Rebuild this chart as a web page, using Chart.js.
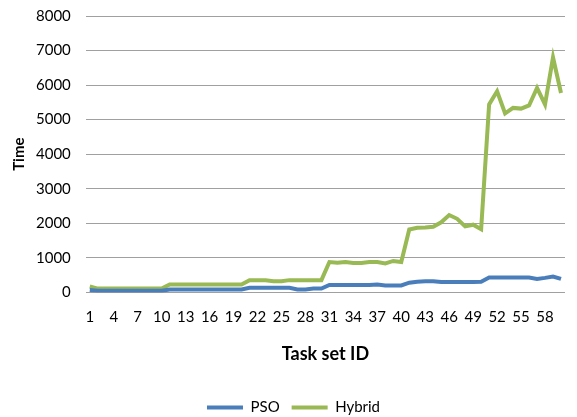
<!DOCTYPE html>
<html>
<head>
<meta charset="utf-8">
<script src="https://cdn.jsdelivr.net/npm/chart.js@4/dist/chart.umd.min.js"></script>
<style>
  html, body { margin: 0; padding: 0; background: #fff; overflow: hidden; }
  #wrap { width: 577px; height: 417px; position: relative; }
</style>
</head>
<body>
<div id="wrap"><canvas id="chartjs-0"></canvas></div>
<script>
// task set ids 1..60
var taskIds = [];
for (var i = 1; i <= 60; i++) { taskIds.push(String(i)); }

var psoTime = [
  70, 50, 50, 50, 50, 50, 50, 50, 50, 50,
  85, 85, 85, 85, 85, 85, 85, 85, 85, 85,
  135, 135, 135, 135, 135, 135, 85, 85, 110, 110,
  215, 215, 215, 215, 215, 215, 230, 200, 200, 200,
  280, 310, 325, 325, 300, 300, 300, 300, 300, 310,
  430, 430, 430, 430, 430, 430, 390, 420, 460, 390
];

var hybridTime = [
  170, 110, 110, 110, 110, 110, 110, 110, 110, 110,
  230, 230, 230, 230, 230, 230, 230, 230, 230, 230,
  355, 355, 350, 320, 320, 355, 355, 355, 355, 355,
  880, 860, 880, 850, 850, 880, 880, 840, 910, 880,
  1820, 1870, 1880, 1900, 2030, 2240, 2130, 1910, 1960, 1830,
  5440, 5820, 5180, 5340, 5320, 5410, 5920, 5440, 6800, 5770
];

var yTicks = [0, 1000, 2000, 3000, 4000, 5000, 6000, 7000, 8000];

var ctx0 = document.getElementById("chartjs-0");
var myChart = new Chart(ctx0, {
  type: "line",
  data: {
    labels: taskIds,
    datasets: [
      { label: "PSO", data: psoTime, borderColor: "#4a7ebb", backgroundColor: "#4a7ebb",
        borderWidth: 4, pointRadius: 0, tension: 0, fill: false },
      { label: "Hybrid", data: hybridTime, borderColor: "#98b954", backgroundColor: "#98b954",
        borderWidth: 4, pointRadius: 0, tension: 0, fill: false }
    ]
  },
  options: {
    responsive: true,
    maintainAspectRatio: false,
    animation: false,
    layout: { padding: { left: 10, right: 0, top: 4, bottom: -8 } },
    plugins: {
      legend: {
        position: "bottom",
        labels: {
          boxWidth: 36, boxHeight: 4, padding: 12,
          color: "#000",
          font: { family: "Lato", size: 15 },
          generateLabels: function (chart) {
            return chart.data.datasets.map(function (ds, k) {
              return { text: ds.label, fillStyle: ds.borderColor, strokeStyle: ds.borderColor,
                       lineWidth: 0, datasetIndex: k, fontColor: "#000" };
            });
          }
        }
      },
      tooltip: { enabled: false }
    },
    scales: {
      x: {
        offset: true,
        grid: { display: false, drawTicks: false },
        border: { display: false },
        ticks: {
          autoSkip: false, maxRotation: 0, padding: 16, color: "#000",
          font: { family: "Lato", size: 15 },
          callback: function (v, idx) { return idx % 3 === 0 ? taskIds[idx] : ""; }
        },
        title: { display: true, text: "Task set ID", color: "#000",
                 font: { family: "Lato", size: 18, weight: "bold" },
                 padding: { top: 1, bottom: 23 } }
      },
      y: {
        min: 0, max: 8000,
        afterBuildTicks: function (axis) { axis.ticks = yTicks.map(function (v) { return { value: v }; }); },
        grid: { color: "#a0a0a0", lineWidth: 1, drawTicks: true, tickLength: 8, tickColor: "rgba(0,0,0,0)" },
        border: { display: false },
        ticks: { padding: 7, color: "#000", font: { family: "Lato", size: 15 },
                 callback: function (v) { return String(v); } },
        title: { display: true, text: "Time", color: "#000",
                 font: { family: "Lato", size: 15, weight: "bold" },
                 padding: { top: 0, bottom: 1 } }
      }
    }
  }
});
</script>
</body>
</html>
